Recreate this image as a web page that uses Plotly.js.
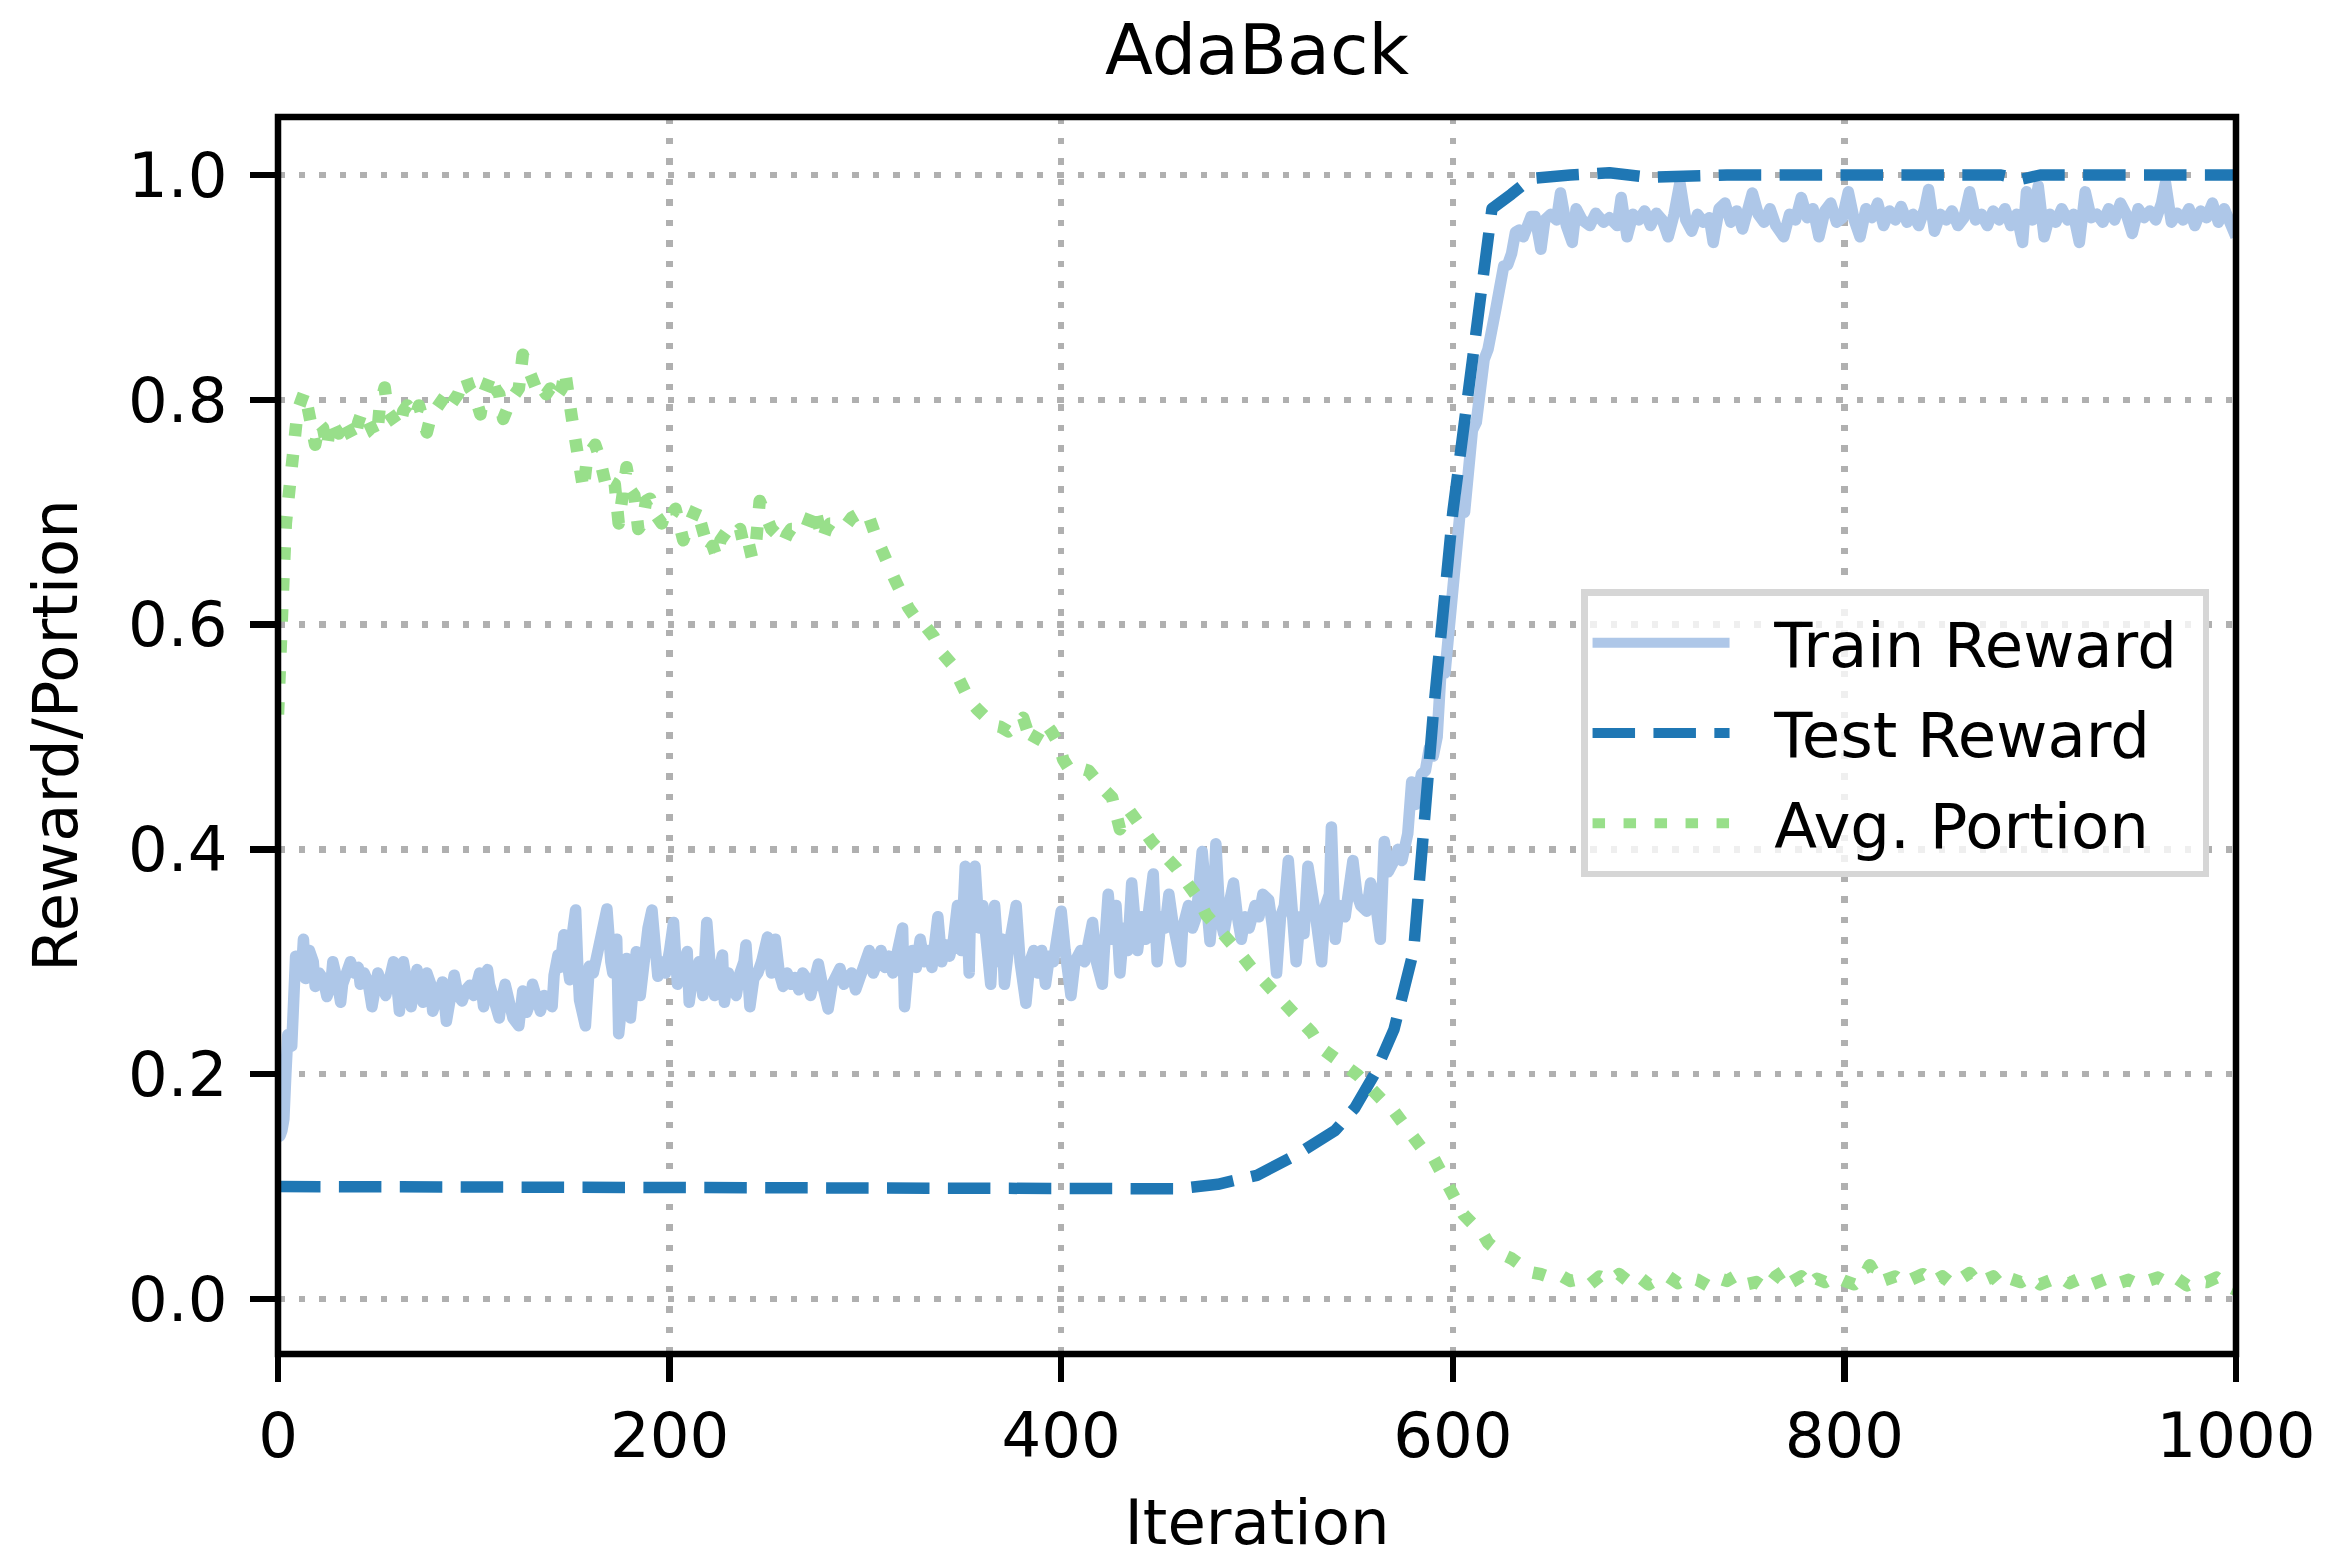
<!DOCTYPE html>
<html>
<head>
<meta charset="utf-8">
<script src="https://cdn.plot.ly/plotly-3.0.1.min.js"></script>
<style>
html, body { margin: 0; padding: 0; background: #ffffff; }
#chart { width: 2330px; height: 1559px; }
.scatterlayer path.js-line { stroke-linejoin: round; }
</style>
</head>
<body>
<div id="chart"></div>
<script>
// ---------------- data ----------------
const seriesNames = ['Train Reward', 'Test Reward', 'Avg. Portion'];

const trainIter = [
  0,1,2,3,4,5,6,7,8,9,10,12,13,14,16,18,19,21,23,25,27,28,30,32,33,35,37,39,41,42,44,46,48,49,51,
  53,55,57,59,61,62,64,66,68,70,71,73,74,76,78,79,81,83,84,86,88,90,92,94,96,98,100,102,103,105,107,108,110,113,114,116,118,120,123,124,125,127,129,130,132,134,136,138,140,141,143,144,146,147,149,150,152,153,154,157,158,159,161,163,164,166,168,170,171,173,174,176,178,180,183,185,187,189,191,192,194,196,198,200,202,204,206,207,209,210,212,214,215,217,219,221,223,225,227,228,230,232,234,236,238,239,241,243,245,247,250,
  252,254,256,258,260,262,264,266,268,270,272,274,276,278,280,281,283,285,287,289,291,293,295,297,298,300,302,
  304,306,308,310,312,314,317,319,320,322,324,326,328,330,332,334,337,339,341,343,345,347,349,351,353,354,356,358,360,362,364,366,368,370,371,373,375,377,379,382,384,386,388,390,392,394,396,398,400,402,405,407,410,412,414,416,418,421,422,424,426,428,430,432,434,436,438,439,441,443,445,447,449,451,453,455,457,459,461,462,465,467,469,472,474,476,478,479,481,483,485,488,490,492,494,496,499,501,503,506,508,510,512,514,516,518,520,522,524,526,528,530,533,535,537,538,540,542,545,547,549,551,553,556,558,560,563,565,567,570,572,574,577,
  579,581,584,586,588,590,592,594,596,598,600,602,604,606,608,610,612,614,616,618,620,622,624,626,628,630,632,634,636,638,640,642,645,647,650,653,655,658,661,663,
  666,670,673,677,680,684,686,689,692,695,698,701,704,707,710,713,716,719,722,725,728,731,733,736,739,742,745,748,750,753,756,759,762,765,769,772,775,778,781,784,787,790,793,796,799,802,805,808,811,814,817,820,823,826,829,832,835,838,841,843,846,849,852,855,858,861,864,867,870,873,876,879,882,885,888,891,893,896,899,902,905,908,911,914,917,920,923,926,929,932,935,938,941,944,947,950,953,956,959,962,964,967,970,973,976,979,982,985,988,991,994,997,1000
];
const trainReward = [
  0.15,0.145,0.15,0.16,0.2,0.235,0.23,0.225,0.28,0.305,0.3,0.29,0.32,0.285,0.31,0.3,0.278,0.29,0.285,0.269,0.28,0.3,0.285,0.264,0.28,0.295,0.3,0.29,0.295,0.28,0.29,0.282,0.26,0.27,0.29,
  0.28,0.27,0.285,0.3,0.275,0.256,0.3,0.285,0.26,0.285,0.293,0.28,0.264,0.29,0.28,0.256,0.27,0.28,0.282,0.247,0.27,0.288,0.27,0.265,0.275,0.279,0.27,0.28,0.29,0.26,0.293,0.28,0.27,0.25,0.265,0.28,0.265,0.25,0.243,0.26,0.274,0.255,0.265,0.28,0.27,0.256,0.27,0.265,0.26,0.288,0.306,0.295,0.324,0.31,0.284,0.32,0.346,0.3,0.266,0.243,0.27,0.296,0.29,0.306,0.31,0.333,0.347,0.3,0.29,0.32,0.236,0.27,0.303,0.25,0.309,0.27,0.31,0.33,0.346,0.31,0.287,0.3,0.29,0.31,0.335,0.28,0.29,0.3,0.309,0.264,0.29,0.285,0.3,0.27,0.335,0.29,0.27,0.29,0.306,0.264,0.29,0.28,0.27,0.29,0.3,0.315,0.26,0.285,0.29,0.3,0.322,
  0.29,0.32,0.29,0.278,0.29,0.28,0.286,0.275,0.29,0.285,0.27,0.29,0.298,0.28,0.27,0.258,0.28,0.29,0.294,0.28,0.285,0.29,0.275,0.285,0.286,0.295,0.31,
  0.29,0.3,0.31,0.295,0.305,0.29,0.31,0.33,0.26,0.3,0.31,0.295,0.32,0.3,0.31,0.295,0.34,0.3,0.315,0.305,0.32,0.35,0.31,0.385,0.29,0.38,0.385,0.33,0.35,0.31,0.28,0.35,0.3,0.32,0.28,0.31,0.33,0.35,0.3,0.263,0.3,0.31,0.29,0.31,0.28,0.305,0.3,0.33,0.345,0.31,0.27,0.3,0.31,0.3,0.32,0.335,0.3,0.28,0.31,0.36,0.32,0.35,0.29,0.33,0.31,0.37,0.33,0.31,0.34,0.32,0.35,0.378,0.3,0.34,0.33,0.36,0.335,0.32,0.3,0.33,0.35,0.33,0.34,0.398,0.35,0.318,0.36,0.405,0.34,0.325,0.345,0.37,0.34,0.32,0.34,0.33,0.35,0.34,0.36,0.355,0.33,0.29,0.34,0.35,0.39,0.33,0.3,0.34,0.325,0.385,0.35,0.34,0.3,0.35,0.36,0.42,0.32,0.35,0.34,0.36,0.39,0.36,0.35,0.345,0.37,0.36,0.32,0.407,0.38,0.39,0.4,0.39,0.414,
  0.46,0.44,0.467,0.47,0.49,0.483,0.5,0.56,0.557,0.6,0.625,0.66,0.705,0.7,0.745,0.773,0.78,0.815,0.836,0.845,0.87,0.881,0.9,0.919,0.92,0.93,0.949,0.951,0.945,0.955,0.963,0.963,0.934,0.96,0.965,0.96,0.984,0.955,0.94,0.97,
  0.96,0.955,0.966,0.958,0.962,0.955,0.98,0.945,0.965,0.96,0.968,0.955,0.966,0.96,0.945,0.965,0.993,0.96,0.95,0.965,0.958,0.962,0.94,0.97,0.975,0.958,0.968,0.952,0.97,0.984,0.965,0.958,0.97,0.955,0.945,0.965,0.96,0.98,0.962,0.97,0.945,0.968,0.975,0.958,0.962,0.985,0.96,0.945,0.97,0.962,0.975,0.955,0.968,0.96,0.972,0.958,0.965,0.955,0.97,0.987,0.95,0.965,0.96,0.968,0.955,0.962,0.985,0.96,0.965,0.955,0.968,0.96,0.97,0.955,0.965,0.94,0.985,0.96,0.99,0.945,0.965,0.958,0.97,0.96,0.965,0.94,0.985,0.962,0.965,0.958,0.97,0.96,0.975,0.965,0.948,0.97,0.962,0.968,0.96,0.975,0.993,0.958,0.966,0.96,0.97,0.955,0.968,0.962,0.975,0.958,0.97,0.96,0.945
];

const testIter = [0,20,40,60,80,100,120,140,160,180,200,220,240,260,280,300,320,340,360,380,400,420,440,460,480,500,520,540,550,560,570,580,590,600,610,620,630,640,660,680,700,720,740,760,780,800,820,840,860,880,890,900,920,940,960,980,1000];
const testReward = [0.1,0.1,0.1,0.1,0.1,0.1,0.1,0.1,0.1,0.1,0.1,0.1,0.1,0.1,0.1,0.1,0.1,0.1,0.1,0.1,0.1,0.1,0.1,0.098,0.102,0.11,0.128,0.15,0.17,0.2,0.24,0.31,0.52,0.7,0.835,0.97,0.983,0.997,1.0,1.002,0.998,1.0,1.0,1.0,1.0,1.0,1.0,1.0,1.0,1.0,0.996,1.0,1.0,1.0,1.0,1.0,1.0];

const portionIter = [
  0,1,2,3,4,5,6,7,8,9,10,12,13.5,15,17,19,21,23,25,27,29,31,33,35,37,39,41,43,45,47,49,50.6,52,54.5,56,58,60,62,64,66,68,70,72,74,76,78,80,82,84,86,88,90,92,94,96,98,100,102,103.4,105,107,109,111,113,115,117,119,121,123,125,127,129,131,133,135,137,139,141,143,145,146.5,148,150,152,154,155,156,158,160,162,164,166,168,170,172,174,176,178,180,182,184,186,188,190,192,194,196,198,200,203,205,207,209,211,214,216,218,220,222,224,226,228,230,233,236,238,240,242,244,246,248,250,252,255,258,260,262,264,267,270,272,274,276,278,280,282,284,287,290,293,296,298,300,302,305,308,312,315,319,322,326,330,335,339,344,348,353,357,362,366,369,373,377,380.6,385,388,391.6,395,399,401,403.5,407,410,414,417,421,426,430,435,440,446.6,451,455.8,459,462.6,466,469.4,474,478,483,487,492,497,501.5,505,508,512,517,520,524,528,533,537,542,547,551.6,556,561,565,570,574,578.5,581,585,590,594.6,598,600.8,605.5,610,614.7,618,620.9,625,630,635,639.4,645,651.7,656,660,
  665,670,675,680,685,690,695,700,705,710,715,720,725,730,735,740,745,750,755,760,765,770,773,778,782,786,790,795,800,805,810,813,818,822,826,830,835,840,845,850,855,860,864,868,872,876,880,885,890,895,900,905,910,915,920,925,930,935,940,945,950,955,960,965,970,975,980,985,990,995,1000
];
const avgPortion = [
  0.52,0.55,0.6,0.65,0.69,0.71,0.725,0.735,0.76,0.78,0.79,0.8,0.807,0.795,0.78,0.76,0.779,0.775,0.757,0.783,0.775,0.77,0.783,0.775,0.765,0.763,0.78,0.79,0.785,0.775,0.77,0.767,0.795,0.811,0.79,0.785,0.78,0.775,0.79,0.795,0.79,0.785,0.795,0.785,0.771,0.785,0.791,0.795,0.8,0.805,0.795,0.8,0.805,0.815,0.82,0.81,0.805,0.795,0.787,0.805,0.815,0.823,0.81,0.805,0.783,0.795,0.8,0.805,0.81,0.84,0.83,0.823,0.81,0.805,0.81,0.805,0.81,0.8,0.805,0.81,0.826,0.8,0.785,0.763,0.745,0.737,0.72,0.75,0.755,0.76,0.75,0.73,0.72,0.727,0.725,0.69,0.71,0.74,0.72,0.715,0.685,0.69,0.71,0.712,0.7,0.695,0.69,0.7,0.695,0.703,0.69,0.675,0.685,0.695,0.705,0.69,0.68,0.665,0.67,0.66,0.675,0.68,0.685,0.68,0.685,0.67,0.675,0.66,0.67,0.71,0.7,0.695,0.685,0.68,0.672,0.68,0.685,0.685,0.69,0.687,0.695,0.705,0.69,0.675,0.685,0.69,0.69,0.69,0.688,0.695,0.7,0.7,0.7,0.695,0.68,0.665,0.652,0.64,0.624,0.615,0.605,0.6,0.589,0.575,0.565,0.55,0.533,0.525,0.517,0.51,0.509,0.505,0.51,0.517,0.493,0.5,0.513,0.505,0.493,0.48,0.473,0.47,0.472,0.47,0.465,0.455,0.446,0.418,0.434,0.42,0.406,0.398,0.39,0.383,0.374,0.366,0.358,0.342,0.333,0.322,0.315,0.306,0.295,0.287,0.28,0.275,0.268,0.259,0.252,0.247,0.237,0.223,0.217,0.211,0.205,0.199,0.19,0.183,0.175,0.167,0.158,0.148,0.141,0.132,0.126,0.111,0.1,0.093,0.075,0.067,0.06,0.05,0.045,0.04,0.036,0.03,0.024,0.022,0.018,0.02,0.016,
  0.018,0.013,0.02,0.016,0.022,0.015,0.02,0.013,0.018,0.02,0.014,0.019,0.017,0.012,0.019,0.016,0.021,0.013,0.015,0.009,0.02,0.026,0.015,0.02,0.012,0.018,0.015,0.02,0.016,0.013,0.02,0.03,0.015,0.018,0.02,0.014,0.019,0.022,0.015,0.02,0.013,0.018,0.023,0.014,0.017,0.02,0.012,0.018,0.015,0.02,0.013,0.017,0.02,0.014,0.018,0.012,0.016,0.019,0.014,0.017,0.013,0.016,0.019,0.014,0.018,0.012,0.016,0.015,0.019,0.012,0.008
];

const xTickVals = [0, 200, 400, 600, 800, 1000];
const yTickVals = [0.0, 0.2, 0.4, 0.6, 0.8, 1.0];

// ---------------- chart ----------------
const FONT = 'DejaVu Sans, Liberation Sans, sans-serif';
const FS = 62.5;
const NB = '\u00A0\u00A0';  // gap between legend sample and label

const traces = [
  { x: trainIter, y: trainReward, name: NB + seriesNames[0] + '\u00A0', legendgroup: 'g1', type: 'scatter', mode: 'lines',
    line: { color: '#aec7e8', width: 11.5 } },
  { x: testIter, y: testReward, name: NB + seriesNames[1], legendgroup: 'g2', type: 'scatter', mode: 'lines',
    line: { color: '#1f77b4', width: 11.5, dash: '42.5px,18.4px' } },
  { x: portionIter, y: avgPortion, name: NB + seriesNames[2], legendgroup: 'g3', type: 'scatter', mode: 'lines',
    line: { color: '#98df8a', width: 12.5, dash: '12.5px,18.5px' } }
];

const axisCommon = {
  ticks: 'outside', ticklen: 27, tickwidth: 6.5, tickcolor: '#000000',
  showline: false, mirror: false,
  showgrid: true, gridcolor: '#b0b0b0', gridwidth: 6.5, griddash: '6.5px,14px',
  zeroline: false, automargin: false,
  tickfont: { family: FONT, size: FS, color: '#000000' }
};

const layout = {
  width: 2330, height: 1559,
  margin: { l: 278, r: 94, t: 117, b: 205, pad: 0 },
  paper_bgcolor: '#ffffff', plot_bgcolor: '#ffffff',
  font: { family: FONT, size: FS, color: '#000000' },
  title: { text: 'AdaBack', font: { family: FONT, size: 70, color: '#000000' },
           x: 0.5, xref: 'paper', xanchor: 'center', y: 0.9682, yref: 'container', yanchor: 'middle' },
  xaxis: Object.assign({}, axisCommon, {
    range: [0, 1000], tickmode: 'array', tickvals: xTickVals, ticktext: xTickVals.map(String),
    title: { text: 'Iteration', font: { family: FONT, size: FS, color: '#000000' }, standoff: 36 }
  }),
  yaxis: Object.assign({}, axisCommon, {
    range: [-0.049, 1.0516], tickmode: 'array', tickvals: yTickVals, ticktext: yTickVals.map(v => v.toFixed(1)),
    ticklabelstandoff: 10,
    title: { text: 'Reward/Portion', font: { family: FONT, size: FS, color: '#000000' }, standoff: 30 }
  }),
  shapes: [
    { type: 'rect', xref: 'paper', yref: 'paper', x0: 0, x1: 1, y0: 0, y1: 1,
      line: { color: '#000000', width: 6.5 }, fillcolor: 'rgba(0,0,0,0)', layer: 'above' }
  ],
  showlegend: true,
  legend: {
    x: 0.6655, y: 0.6184, xanchor: 'left', yanchor: 'top',
    bgcolor: 'rgba(255,255,255,0.8)', bordercolor: '#d6d6d6', borderwidth: 6.5,
    font: { family: FONT, size: FS, color: '#000000' },
    itemwidth: 137, traceorder: 'grouped', tracegroupgap: 6
  }
};

Plotly.newPlot('chart', traces, layout, { staticPlot: true, displayModeBar: false });
</script>
</body>
</html>
